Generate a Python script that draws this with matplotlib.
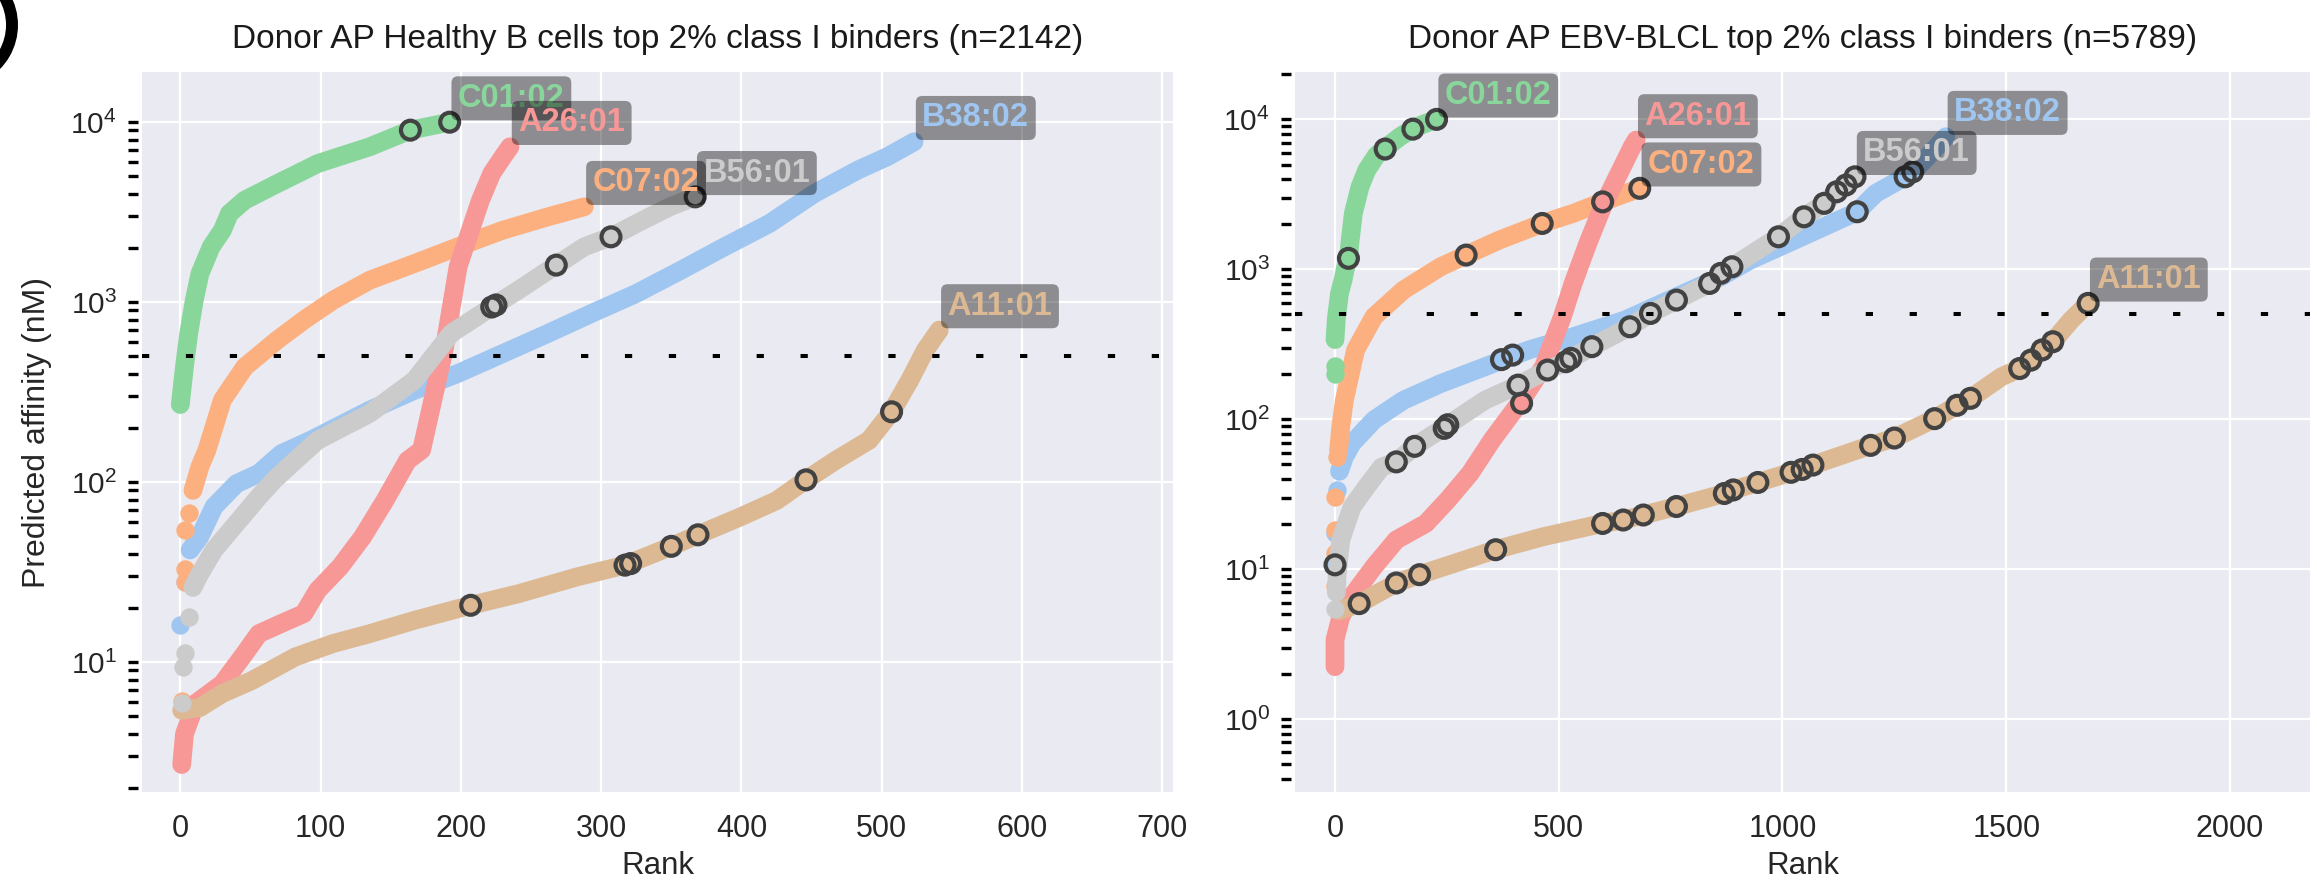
import numpy as np
import matplotlib
matplotlib.use("Agg")
import matplotlib.pyplot as plt
import seaborn as sns
from matplotlib.ticker import LogLocator, NullFormatter
from matplotlib.patches import Arc

# ---- Healthy B cells, top 2% class I binders (n=2142) ----
hb_b3802_rank = [7, 14, 24, 40, 56, 72, 93, 135, 167, 198, 230, 262, 293, 325, 357, 388, 420, 452, 483, 504, 523]
hb_b3802_nm = [42, 50, 73, 98, 112, 144, 171, 251, 324, 402, 519, 670, 865, 1117, 1507, 2032, 2737, 4018, 5420, 6430, 7780]
hb_b3802_lead_rank = [0, 3]
hb_b3802_lead_nm = [16, 28]
hb_b3802_hit_rank = []
hb_b3802_hit_nm = []

hb_c0702_rank = [9, 14, 19, 30, 46, 69, 88, 109, 135, 167, 198, 230, 262, 288]
hb_c0702_nm = [90, 122, 151, 286, 437, 615, 794, 1026, 1324, 1641, 2032, 2512, 2979, 3388]
hb_c0702_lead_rank = [1, 3, 3, 3, 6]
hb_c0702_lead_nm = [6.1, 28, 33, 54, 67]
hb_c0702_hit_rank = []
hb_c0702_hit_nm = []

hb_c0102_rank = [0, 3, 6, 10, 14, 22, 30, 35, 46, 67, 98, 135, 164, 192]
hb_c0102_nm = [270, 440, 670, 1030, 1440, 2030, 2510, 3110, 3690, 4470, 5890, 7300, 9030, 10000]
hb_c0102_lead_rank = []
hb_c0102_lead_nm = []
hb_c0102_hit_rank = [164, 192]
hb_c0102_hit_nm = [9030, 10000]

hb_a2601_rank = [1, 3, 11, 30, 46, 56, 72, 88, 98, 114, 130, 146, 162, 172, 180, 188, 194, 198, 206, 214, 222, 230, 235]
hb_a2601_nm = [2.7, 4.0, 5.9, 7.6, 11.2, 14.4, 16.4, 18.6, 25.1, 33.9, 49.7, 79.4, 132, 151, 286, 541, 1026, 1574,
               2410, 3690, 5190, 6430, 7300]
hb_a2601_lead_rank = []
hb_a2601_lead_nm = []
hb_a2601_hit_rank = []
hb_a2601_hit_nm = []

hb_a1101_rank = [1, 14, 30, 51, 82, 109, 135, 167, 207, 241, 283, 317, 350, 369, 399, 425, 446, 467, 491, 507, 520, 531, 541]
hb_a1101_nm = [5.4, 5.6, 6.7, 7.9, 10.7, 12.7, 14.4, 17.1, 20.7, 24, 29.8, 34.6, 44, 51, 64, 79, 103, 132, 171, 246,
               369, 541, 700]
hb_a1101_lead_rank = []
hb_a1101_lead_nm = []
hb_a1101_hit_rank = [207, 317, 321, 350, 369, 446, 507]
hb_a1101_hit_nm = [20.7, 34.6, 35.3, 44, 51, 103, 246]

hb_b5601_rank = [9, 14, 24, 40, 56, 67, 82, 98, 135, 167, 193, 224, 241, 268, 288, 307, 330, 349, 367]
hb_b5601_nm = [26, 31, 42, 59, 83, 103, 132, 171, 241, 369, 670, 963, 1167, 1607, 2032, 2307, 2858, 3388, 3846]
hb_b5601_lead_rank = [1, 2, 3, 6]
hb_b5601_lead_nm = [5.9, 9.4, 11.2, 17.9]
hb_b5601_hit_rank = [222, 225, 268, 307, 367]
hb_b5601_hit_nm = [940, 965, 1607, 2307, 3846]

# ---- EBV-BLCL, top 2% class I binders (n=5789) ----
lcl_b3802_rank = [10, 21, 38, 87, 153, 236, 335, 433, 532, 648, 763, 862, 928, 1011, 1093, 1167, 1208, 1274, 1291, 1324, 1365]
lcl_b3802_nm = [45, 56, 69, 99, 134, 173, 224, 290, 355, 459, 656, 891, 1153, 1489, 1923, 2421, 3206, 4140, 4470, 5620, 7660]
lcl_b3802_lead_rank = [0, 0, 5]
lcl_b3802_lead_nm = [10.4, 17.4, 33.8]
lcl_b3802_hit_rank = [0, 372, 397, 1167, 1274, 1291]
lcl_b3802_hit_nm = [10.7, 250, 268, 2421, 4140, 4470]

lcl_c0702_rank = [8, 13, 21, 46, 87, 153, 236, 293, 367, 463, 532, 598, 681]
lcl_c0702_nm = [62, 90, 134, 290, 483, 728, 1040, 1245, 1567, 2023, 2360, 2818, 3470]
lcl_c0702_lead_rank = [0, 0, 0, 0, 5]
lcl_c0702_lead_nm = [7.7, 12.8, 18.3, 30.5, 56]
lcl_c0702_hit_rank = [293, 463, 598, 681]
lcl_c0702_hit_nm = [1245, 2023, 2818, 3470]

lcl_c0102_rank = [0, 3, 10, 18, 24, 30, 34, 41, 56, 71, 93, 116, 145, 175, 205, 227]
lcl_c0102_nm = [340, 470, 690, 850, 1040, 1184, 1567, 2362, 3556, 4592, 5780, 6560, 7660, 8710, 9480, 10000]
lcl_c0102_lead_rank = [0, 0]
lcl_c0102_lead_nm = [200, 225]
lcl_c0102_hit_rank = [30, 112, 174, 227]
lcl_c0102_hit_nm = [1184, 6340, 8610, 10000]

lcl_a2601_rank = [0, 0, 13, 38, 87, 137, 203, 252, 302, 351, 417, 466, 508, 532, 565, 598, 631, 664, 673]
lcl_a2601_nm = [2.24, 3.4, 4.8, 6.6, 10.4, 15.7, 20.2, 29, 43.6, 72.8, 134, 224, 483, 805, 1489, 2612, 4140, 6560, 7280]
lcl_a2601_lead_rank = []
lcl_a2601_lead_nm = []
lcl_a2601_hit_rank = []
lcl_a2601_hit_nm = []

lcl_a1101_rank = [10, 54, 137, 189, 269, 359, 466, 598, 644, 689, 763, 870, 890, 945, 1019, 1044, 1068, 1197, 1250,
                  1340, 1390, 1420, 1489, 1530, 1555, 1580, 1604, 1645, 1683]
lcl_a1101_nm = [5.3, 5.9, 8.1, 9.2, 11, 13.5, 16.5, 20.2, 21.3, 23, 26.2, 32, 33.8, 37.9, 44.3, 46.3, 49.5, 67, 75,
                101, 124, 138, 192, 218, 248, 290, 329, 459, 593]
lcl_a1101_lead_rank = []
lcl_a1101_lead_nm = []
lcl_a1101_hit_rank = [54, 137, 189, 359, 598, 644, 689, 763, 870, 890, 945, 1019, 1044, 1068, 1197, 1250, 1340, 1390,
                      1420, 1530, 1555, 1580, 1604, 1683]
lcl_a1101_hit_nm = [5.9, 8.1, 9.2, 13.5, 20.2, 21.3, 23, 26.2, 32, 33.8, 37.9, 44.3, 46.3, 49.5, 67, 75, 101, 124,
                    138, 218, 248, 290, 329, 593]

lcl_b5601_rank = [3, 5, 13, 38, 71, 104, 137, 178, 248, 335, 409, 475, 516, 574, 659, 705, 763, 837, 887, 991, 1048,
                  1093, 1121, 1142, 1162]
lcl_b5601_nm = [7, 9.4, 15.7, 26, 35.6, 48, 52, 66, 90, 134, 169, 213, 242, 305, 414, 508, 624, 805, 1040, 1648, 2240,
                2754, 3290, 3650, 4140]
lcl_b5601_lead_rank = [0]
lcl_b5601_lead_nm = [5.4]
lcl_b5601_hit_rank = [137, 178, 244, 252, 409, 417, 475, 516, 527, 574, 659, 705, 763, 837, 862, 887, 991, 1048, 1093,
                      1121, 1142, 1162]
lcl_b5601_hit_nm = [52, 66, 87, 92, 169, 128, 213, 242, 255, 305, 414, 508, 624, 805, 940, 1040, 1648, 2240, 2754,
                    3290, 3650, 4140]

ALLELES = ["B38:02", "C07:02", "C01:02", "A26:01", "A11:01", "B56:01"]
COLORS = {"B38:02": "#9ec6f0", "C07:02": "#fcb07f", "C01:02": "#89d69b",
          "A26:01": "#f79896", "A11:01": "#dcb993", "B56:01": "#cbcbcb"}
CUTOFF_NM = 500

hb_series = {
    "B38:02": (hb_b3802_rank, hb_b3802_nm, hb_b3802_lead_rank, hb_b3802_lead_nm, hb_b3802_hit_rank, hb_b3802_hit_nm),
    "C07:02": (hb_c0702_rank, hb_c0702_nm, hb_c0702_lead_rank, hb_c0702_lead_nm, hb_c0702_hit_rank, hb_c0702_hit_nm),
    "C01:02": (hb_c0102_rank, hb_c0102_nm, hb_c0102_lead_rank, hb_c0102_lead_nm, hb_c0102_hit_rank, hb_c0102_hit_nm),
    "A26:01": (hb_a2601_rank, hb_a2601_nm, hb_a2601_lead_rank, hb_a2601_lead_nm, hb_a2601_hit_rank, hb_a2601_hit_nm),
    "A11:01": (hb_a1101_rank, hb_a1101_nm, hb_a1101_lead_rank, hb_a1101_lead_nm, hb_a1101_hit_rank, hb_a1101_hit_nm),
    "B56:01": (hb_b5601_rank, hb_b5601_nm, hb_b5601_lead_rank, hb_b5601_lead_nm, hb_b5601_hit_rank, hb_b5601_hit_nm),
}
lcl_series = {
    "B38:02": (lcl_b3802_rank, lcl_b3802_nm, lcl_b3802_lead_rank, lcl_b3802_lead_nm, lcl_b3802_hit_rank, lcl_b3802_hit_nm),
    "C07:02": (lcl_c0702_rank, lcl_c0702_nm, lcl_c0702_lead_rank, lcl_c0702_lead_nm, lcl_c0702_hit_rank, lcl_c0702_hit_nm),
    "C01:02": (lcl_c0102_rank, lcl_c0102_nm, lcl_c0102_lead_rank, lcl_c0102_lead_nm, lcl_c0102_hit_rank, lcl_c0102_hit_nm),
    "A26:01": (lcl_a2601_rank, lcl_a2601_nm, lcl_a2601_lead_rank, lcl_a2601_lead_nm, lcl_a2601_hit_rank, lcl_a2601_hit_nm),
    "A11:01": (lcl_a1101_rank, lcl_a1101_nm, lcl_a1101_lead_rank, lcl_a1101_lead_nm, lcl_a1101_hit_rank, lcl_a1101_hit_nm),
    "B56:01": (lcl_b5601_rank, lcl_b5601_nm, lcl_b5601_lead_rank, lcl_b5601_lead_nm, lcl_b5601_hit_rank, lcl_b5601_hit_nm),
}

sns.set_style("darkgrid")
plt.rcParams["font.family"] = ["Liberation Sans", "DejaVu Sans"]
plt.rcParams["mathtext.fontset"] = "custom"
plt.rcParams["mathtext.rm"] = "Liberation Sans"
plt.rcParams["mathtext.it"] = "Liberation Sans:italic"
plt.rcParams["mathtext.bf"] = "Liberation Sans:bold"

W, H = 2317, 893
fig = plt.figure(figsize=(W / 100, H / 100), dpi=100)


def add_axes_px(left, top, right, bottom):
    return fig.add_axes([left / W, 1 - bottom / H, (right - left) / W, (bottom - top) / H])


def draw_panel(ax, series, title, xlim, ylim, xticks):
    ax.set_yscale("log")
    for z, name in enumerate(ALLELES):
        rank, nm, lead_r, lead_nm, hit_r, hit_nm = series[name]
        c = COLORS[name]
        ax.plot(rank, nm, color=c, lw=13.5, solid_capstyle="round", solid_joinstyle="round", zorder=2 + z * 0.1)
        if lead_r:
            ax.scatter(lead_r, lead_nm, s=175, color=c, linewidths=0, zorder=2 + z * 0.1)
        if hit_r:
            ax.scatter(hit_r, hit_nm, s=185, facecolors="none", edgecolors="#424242", linewidths=3.0, zorder=4)
    # label each allele at its highest-ranked peptide
    for name in ALLELES:
        rank, nm = series[name][0], series[name][1]
        ax.annotate(name, xy=(rank[-1], nm[-1]), xytext=(6, 6), textcoords="offset points",
                    ha="left", va="bottom", fontsize=23.5, fontweight="bold", color=COLORS[name],
                    bbox=dict(boxstyle="round,pad=0.2", fc="black", alpha=0.4, ec="none"), zorder=10)

    ax.axhline(CUTOFF_NM, color="black", lw=2.9, ls=(0, (1.8, 9.1)), zorder=6)

    ax.set_xlim(*xlim)
    ax.set_ylim(*ylim)
    ax.set_xticks(xticks)
    ax.yaxis.set_major_locator(LogLocator(base=10, numticks=20))
    ax.yaxis.set_minor_locator(LogLocator(base=10, subs=np.arange(2, 10), numticks=100))
    ax.yaxis.set_minor_formatter(NullFormatter())
    for s in ax.spines.values():
        s.set_visible(False)
    ax.spines["left"].set_position(("outward", 3))
    ax.tick_params(axis="y", which="both", left=True, direction="out", length=7, width=2.4,
                   color="black", labelsize=21.5, pad=8)
    ax.tick_params(axis="x", length=0, pad=16, labelsize=22, labelcolor="#262626")
    ax.grid(True, which="major", color="white", lw=1.6)
    ax.grid(False, which="minor")
    ax.set_title(title, fontsize=24, pad=17, color="#1a1a1a")
    ax.set_xlabel("Rank", fontsize=22.5, labelpad=5, color="#262626")


ax_l = add_axes_px(142, 72, 1173, 792)
ax_r = add_axes_px(1295, 72, 2310, 792)

draw_panel(ax_l, hb_series, "Donor AP Healthy B cells top 2% class I binders (n=2142)",
           (-27.3, 707.6), (1.9, 1.9e4), [0, 100, 200, 300, 400, 500, 600, 700])
draw_panel(ax_r, lcl_series, "Donor AP EBV-BLCL top 2% class I binders (n=5789)",
           (-89.4, 2178.8), (0.327, 2.07e4), [0, 500, 1000, 1500, 2000])

fig.text(37 / W, 1 - 432 / H, "Predicted affinity (nM)", rotation=90, ha="center", va="center",
         fontsize=23, color="#262626")

# cropped panel letter in the top-left corner
overlay = fig.add_axes([0, 0, 1, 1], zorder=-5)
overlay.set_xlim(0, W)
overlay.set_ylim(H, 0)
overlay.set_axis_off()
overlay.add_patch(Arc((-45, 25), 114, 114, theta1=-60, theta2=60, lw=8.6, color="black"))

fig.savefig("out.png", dpi=100)
